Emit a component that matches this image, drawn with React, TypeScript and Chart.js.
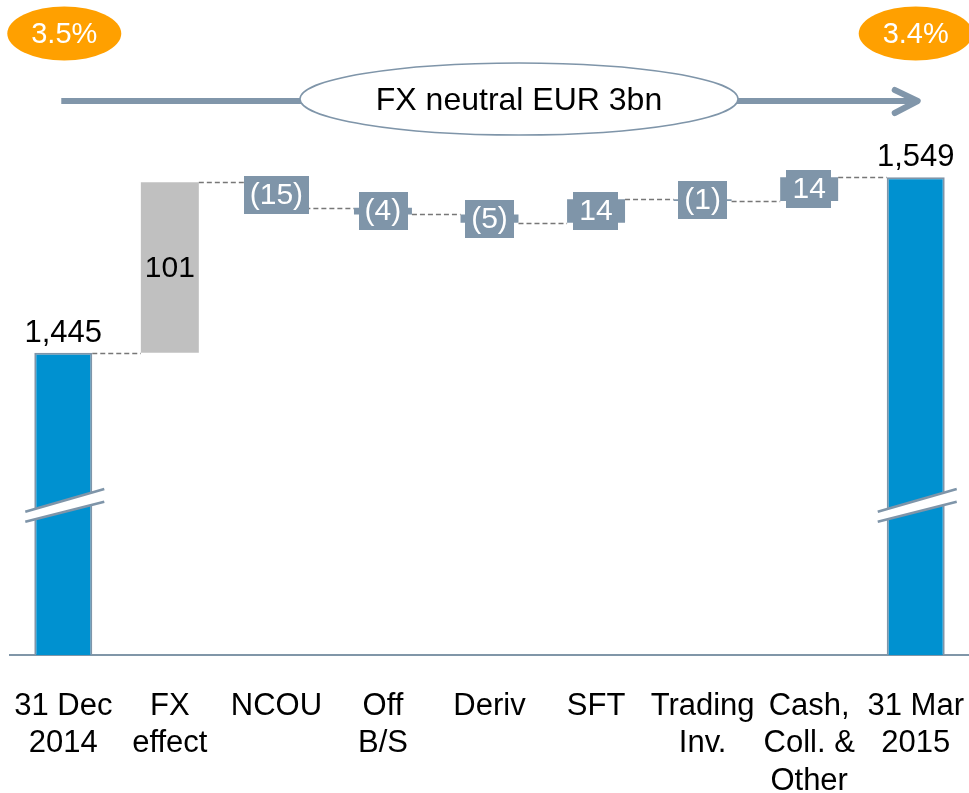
import React, { useEffect, useRef } from "react";
import { Chart, registerables } from "chart.js";

Chart.register(...registerables);

// ---- Data ----
const categories: string[][] = [
  ["31 Dec", "2014"],
  ["FX", "effect"],
  ["NCOU"],
  ["Off", "B/S"],
  ["Deriv"],
  ["SFT"],
  ["Trading", "Inv."],
  ["Cash,", "Coll. &", "Other"],
  ["31 Mar", "2015"],
];
const startTotal = 1445;
const changes = [101, -15, -4, -5, 14, -1, 14];
const endTotal = 1549;
const valueLabels = ["1,445", "101", "(15)", "(4)", "(5)", "14", "(1)", "14", "1,549"];
const ratioStart = "3.5%";
const ratioEnd = "3.4%";
const bannerText = "FX neutral EUR 3bn";
const Y_MIN = 1266;
const Y_MAX = 1654;

// ---- Styles ----
const FONT = "'Liberation Sans', Arial, sans-serif";
const BLUE = "#0091d0";
const GREY = "#c0c0c0";
const SLATE = "#7f95a9";
const ORANGE = "#ffa000";

function buildData() {
  const data: [number, number][] = [];
  const kinds: string[] = [];
  data.push([Y_MIN, startTotal]);
  kinds.push("total");
  let run = startTotal;
  changes.forEach((c, i) => {
    data.push([run, run + c]);
    kinds.push(i === 0 ? "fx" : "delta");
    run += c;
  });
  data.push([Y_MIN, endTotal]);
  kinds.push("total");
  return { data, kinds };
}

const overlayPlugin = {
  id: "waterfallOverlay",
  afterDatasetsDraw(chart: any) {
    const ctx: CanvasRenderingContext2D = chart.ctx;
    const meta = chart.getDatasetMeta(0);
    const els = meta.data as any[];
    const ys = chart.scales.y;
    const area = chart.chartArea;
    const { data, kinds } = buildData();
    const n = els.length;

    ctx.save();
    // connectors
    ctx.strokeStyle = "#777777";
    ctx.lineWidth = 1.6;
    ctx.setLineDash([5, 3]);
    for (let i = 0; i < n - 1; i++) {
      const level = data[i][1];
      const y = Math.round(ys.getPixelForValue(level)) + 0.5;
      const a = els[i];
      const b = els[i + 1];
      ctx.beginPath();
      ctx.moveTo(a.x + a.width / 2, y);
      ctx.lineTo(b.x - b.width / 2, y);
      ctx.stroke();
    }
    ctx.setLineDash([]);

    // axis breaks on total bars
    [0, n - 1].forEach((i) => {
      const el = els[i];
      const yc = area.bottom - 150;
      const x0 = el.x - 38;
      const x1 = el.x + 41;
      const u0 = yc + 6.7, u1 = yc - 16;
      const l0 = yc + 16.7, l1 = yc - 3.3;
      ctx.fillStyle = "#ffffff";
      ctx.beginPath();
      ctx.moveTo(x0, u0);
      ctx.lineTo(x1, u1);
      ctx.lineTo(x1, l1);
      ctx.lineTo(x0, l0);
      ctx.closePath();
      ctx.fill();
      ctx.strokeStyle = SLATE;
      ctx.lineWidth = 2.5;
      ctx.beginPath();
      ctx.moveTo(x0, u0);
      ctx.lineTo(x1, u1);
      ctx.moveTo(x0, l0);
      ctx.lineTo(x1, l1);
      ctx.stroke();
    });

    // delta boxes
    ctx.font = `30px ${FONT}`;
    ctx.textAlign = "center";
    ctx.textBaseline = "middle";
    for (let i = 0; i < n; i++) {
      if (kinds[i] !== "delta") continue;
      const el = els[i];
      const cy = (el.y + el.base) / 2;
      const tw = ctx.measureText(valueLabels[i]).width;
      const w = tw + 12;
      const h = 38;
      ctx.fillStyle = SLATE;
      ctx.fillRect(Math.round(el.x - w / 2), Math.round(cy - h / 2), Math.round(w), h);
      ctx.fillStyle = "#ffffff";
      ctx.fillText(valueLabels[i], el.x, cy + 1);
    }

    // total labels
    ctx.fillStyle = "#000000";
    ctx.font = `31px ${FONT}`;
    ctx.textBaseline = "alphabetic";
    [0, n - 1].forEach((i) => {
      const el = els[i];
      ctx.fillText(valueLabels[i], el.x, el.y - 11);
    });
    // fx label
    for (let i = 0; i < n; i++) {
      if (kinds[i] !== "fx") continue;
      const el = els[i];
      ctx.font = `30px ${FONT}`;
      ctx.textBaseline = "middle";
      ctx.fillText(valueLabels[i], el.x, (el.y + el.base) / 2 + 1);
    }

    // top: arrow
    const xa = els[0].x;
    const xb = els[n - 1].x;
    const ay = 101;
    ctx.strokeStyle = "#8196aa";
    ctx.lineWidth = 6;
    ctx.lineCap = "butt";
    ctx.beginPath();
    ctx.moveTo(xa - 2, ay);
    ctx.lineTo(xb - 1, ay);
    ctx.stroke();
    ctx.lineCap = "round";
    ctx.lineJoin = "round";
    ctx.beginPath();
    ctx.moveTo(xb - 21, ay - 11);
    ctx.lineTo(xb + 2, ay);
    ctx.lineTo(xb - 21, ay + 12);
    ctx.stroke();

    // banner ellipse
    ctx.beginPath();
    ctx.ellipse(519, 99, 219, 36, 0, 0, Math.PI * 2);
    ctx.fillStyle = "#ffffff";
    ctx.fill();
    ctx.strokeStyle = SLATE;
    ctx.lineWidth = 1.5;
    ctx.stroke();
    ctx.fillStyle = "#000000";
    ctx.font = `32px ${FONT}`;
    ctx.textBaseline = "middle";
    ctx.fillText(bannerText, 519, 101);

    // orange ratio ellipses
    [
      [xa + 1, ratioStart],
      [xb + 0, ratioEnd],
    ].forEach(([x, t]) => {
      ctx.beginPath();
      ctx.ellipse(x as number, 33.5, 57, 27, 0, 0, Math.PI * 2);
      ctx.fillStyle = ORANGE;
      ctx.fill();
      ctx.fillStyle = "#ffffff";
      ctx.font = `29px ${FONT}`;
      ctx.fillText(t as string, x as number, 35);
    });
    ctx.restore();
  },
};

export default function App() {
  const ref = useRef<HTMLCanvasElement | null>(null);
  useEffect(() => {
    if (!ref.current) return;
    const { data, kinds } = buildData();
    const chart = new Chart(ref.current, {
      type: "bar",
      data: {
        labels: categories,
        datasets: [
          {
            data: data as any,
            backgroundColor: kinds.map((k) => (k === "total" ? BLUE : k === "fx" ? GREY : SLATE)),
            borderColor: kinds.map((k) => (k === "total" ? SLATE : "rgba(0,0,0,0)")),
            borderWidth: kinds.map((k) => (k === "total" ? 2 : 0)),
            borderSkipped: "start",
            barPercentage: 0.544,
            categoryPercentage: 1,
          },
        ],
      },
      options: {
        animation: false,
        responsive: false,
        devicePixelRatio: 1,
        layout: { padding: { left: 10, right: 0, top: 0, bottom: 0 } },
        plugins: { legend: { display: false }, tooltip: { enabled: false } },
        scales: {
          x: {
            grid: { display: false, drawTicks: false },
            border: { display: true, color: "#8096a8", width: 2 },
            ticks: {
              color: "#000000",
              font: { family: FONT, size: 31, lineHeight: 1.2 },
              padding: 33,
              maxRotation: 0,
              autoSkip: false,
            },
            afterFit: (scale: any) => {
              scale.height = 138;
              scale.paddingLeft = 0;
              scale.paddingRight = 0;
            },
          },
          y: {
            display: false,
            min: Y_MIN,
            max: Y_MAX,
          },
        },
      },
      plugins: [overlayPlugin],
    });
    return () => chart.destroy();
  }, []);
  return (
    <div style={{ position: "fixed", left: 0, top: 0, width: 969, height: 793, background: "#fff" }}>
      <canvas ref={ref} width={969} height={793} style={{ display: "block" }} />
    </div>
  );
}
